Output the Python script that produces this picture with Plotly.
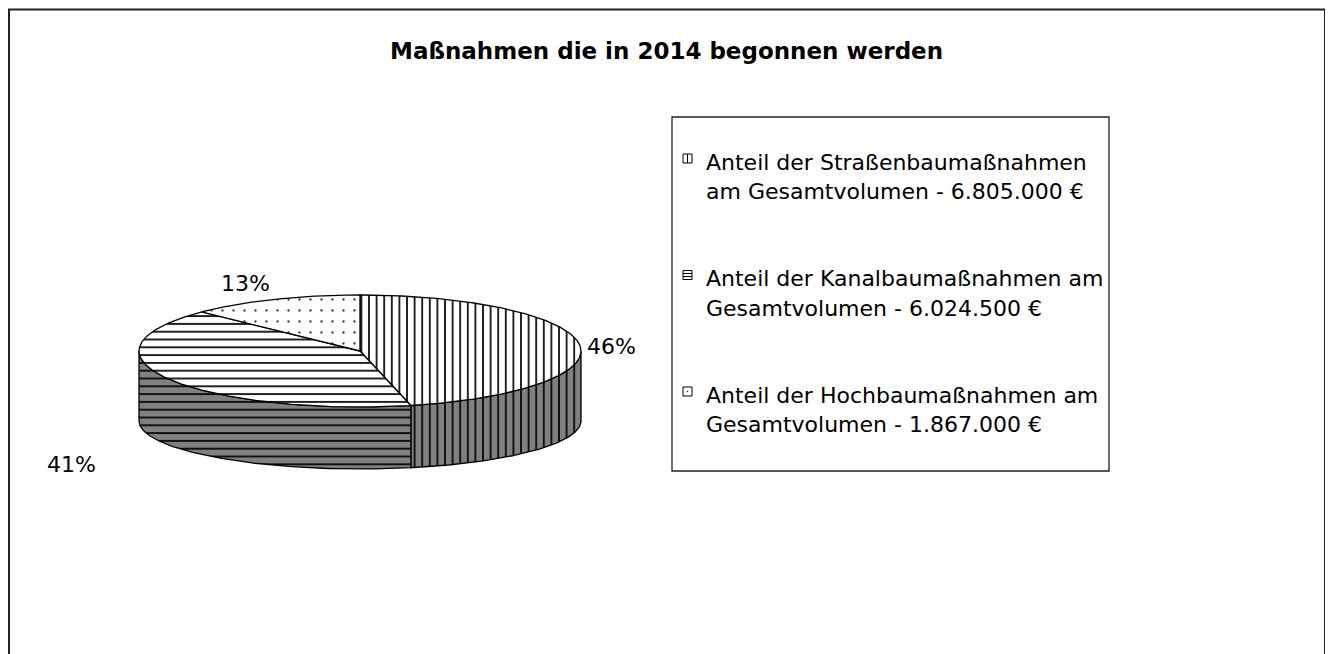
import numpy as np
import plotly.graph_objects as go

# ---------------- data ----------------
title_text = "Maßnahmen die in 2014 begonnen werden"
categories = [
    "Anteil der Straßenbaumaßnahmen|am Gesamtvolumen",
    "Anteil der Kanalbaumaßnahmen am|Gesamtvolumen",
    "Anteil der Hochbaumaßnahmen am|Gesamtvolumen",
]
values = [6805000, 6024500, 1867000]

# ---------------- style ----------------
FONT = "DejaVu Sans, Arial, sans-serif"
W, H = 1333, 654
OFF = 8                                      # page body margin
CX, CY, RX, RY = 360, 351, 221, 56           # top ellipse
CYB, RYB = 421, 48                           # bottom ellipse (perspective)
WALL_GRAY = "#808080"
patterns = [
    dict(shape="|", size=7.6, solidity=0.22, fgcolor="black"),
    dict(shape="-", size=7.8, solidity=0.22, fgcolor="black"),
    dict(shape=".", size=11, solidity=0.035, fgcolor="#333"),
]
label_shift = [(32, 2), (-96, 20), (-29, -16)]
legend_top_line_y = [162, 278.5, 395]
LEG_TEXT_X = 704
LINE_GAP = 29.5
TXT_SIZE = 22
TITLE_SIZE = 23

total = float(sum(values))
fracs = [v / total for v in values]
pcts = [f"{round(f * 100):d}%" for f in fracs]
amounts = [f"{v:,}".replace(",", ".") + " €" for v in values]

def top_pt(t):
    r = np.radians(t)
    return CX + RX * np.sin(r), CY - RY * np.cos(r)

def bot_pt(t):
    r = np.radians(t)
    return CX + RX * np.sin(r), CYB - RYB * np.cos(r)

fig = go.Figure()

bounds = np.concatenate([[0.0], np.cumsum(fracs) * 360.0])

# side walls (front half: 90..270 deg)
for i in range(len(values)):
    t0, t1 = bounds[i], bounds[i + 1]
    a, b = max(t0, 90.0), min(t1, 270.0)
    if a >= b:
        continue
    tt = np.linspace(a, b, 120)
    xt, yt = top_pt(tt)
    xb, yb = bot_pt(tt[::-1])
    xs = np.concatenate([xt, xb, xt[:1]])
    ys = np.concatenate([yt, yb, yt[:1]])
    p = dict(patterns[i]); p.update(bgcolor=WALL_GRAY, fillmode="replace")
    fig.add_trace(go.Scatter(x=xs, y=ys, mode="lines", fill="toself",
                             fillcolor=WALL_GRAY, fillpattern=p,
                             line=dict(color="black", width=1.3),
                             hoverinfo="skip", showlegend=False))

# top faces
for i in range(len(values)):
    t0, t1 = bounds[i], bounds[i + 1]
    tt = np.linspace(t0, t1, 200)
    xa, ya = top_pt(tt)
    xs = np.concatenate([[CX], xa, [CX]])
    ys = np.concatenate([[CY], ya, [CY]])
    p = dict(patterns[i]); p.update(bgcolor="white", fillmode="replace")
    fig.add_trace(go.Scatter(x=xs, y=ys, mode="lines", fill="toself",
                             fillcolor="white", fillpattern=p,
                             line=dict(color="black", width=1.3),
                             hoverinfo="skip", showlegend=False))

annotations = []
for i in range(len(values)):
    m = (bounds[i] + bounds[i + 1]) / 2
    if 90 < m < 270:
        bx, by = bot_pt(m)
    else:
        bx, by = top_pt(m)
    dx, dy = label_shift[i]
    annotations.append(dict(x=bx + dx, y=by + dy, xref="x", yref="y",
                            text=pcts[i], showarrow=False,
                            xanchor="center", yanchor="middle",
                            font=dict(family=FONT, size=TXT_SIZE, color="black")))

annotations.append(dict(x=666, y=51, xref="x", yref="y", text=f"<b>{title_text}</b>",
                        showarrow=False, xanchor="center", yanchor="middle",
                        font=dict(family=FONT, size=TITLE_SIZE, color="black")))

shapes = []
shapes.append(dict(type="rect", xref="x", yref="y", x0=9, y0=9.5, x1=1325, y1=700,
                   line=dict(color="#222", width=2), fillcolor="rgba(0,0,0,0)"))
shapes.append(dict(type="rect", xref="x", yref="y", x0=672, y0=117, x1=1109, y1=471,
                   line=dict(color="#222", width=1.3), fillcolor="rgba(0,0,0,0)"))

for i, cat in enumerate(categories):
    l1, l2 = cat.split("|")
    l2 = f"{l2} - {amounts[i]}"
    y1 = legend_top_line_y[i]
    for j, txt in enumerate([l1, l2]):
        annotations.append(dict(x=LEG_TEXT_X, y=y1 + j * LINE_GAP, xref="x", yref="y",
                                text=txt, showarrow=False, xanchor="left", yanchor="middle",
                                font=dict(family=FONT, size=TXT_SIZE, color="black")))
    sx0, sy0 = 683, y1 - 8
    sx1, sy1 = sx0 + 9, sy0 + 9
    shapes.append(dict(type="rect", xref="x", yref="y", x0=sx0, y0=sy0, x1=sx1, y1=sy1,
                       line=dict(color="black", width=1), fillcolor="white"))
    shape = patterns[i]["shape"]
    if shape == "|":
        shapes.append(dict(type="line", xref="x", yref="y", x0=(sx0 + sx1) / 2, x1=(sx0 + sx1) / 2,
                           y0=sy0, y1=sy1, line=dict(color="black", width=1)))
    elif shape == "-":
        for k in (1, 2):
            yy = sy0 + k * 3
            shapes.append(dict(type="line", xref="x", yref="y", x0=sx0, x1=sx1,
                               y0=yy, y1=yy, line=dict(color="black", width=1)))
    else:
        shapes.append(dict(type="rect", xref="x", yref="y", x0=(sx0 + sx1) / 2 - 0.7,
                           x1=(sx0 + sx1) / 2 + 0.7, y0=(sy0 + sy1) / 2 - 0.7,
                           y1=(sy0 + sy1) / 2 + 0.7, line=dict(width=0), fillcolor="#333"))

fig.update_layout(
    width=W - OFF, height=H - OFF,
    margin=dict(l=0, r=0, t=0, b=0),
    paper_bgcolor="white", plot_bgcolor="white",
    xaxis=dict(range=[OFF, W], visible=False, fixedrange=True),
    yaxis=dict(range=[H, OFF], visible=False, fixedrange=True),
    showlegend=False,
    annotations=annotations,
    shapes=shapes,
)

fig.write_html("out.html")
